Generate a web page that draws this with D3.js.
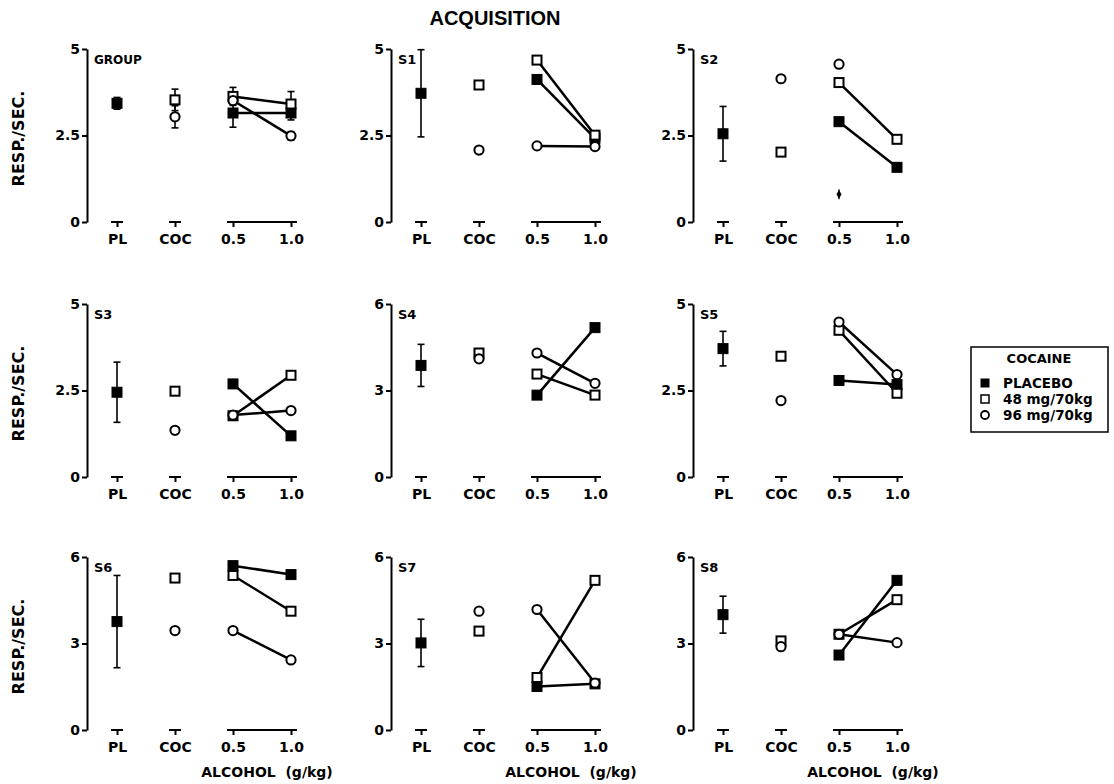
<!DOCTYPE html>
<html>
<head>
<meta charset="utf-8">
<script src="https://cdn.jsdelivr.net/npm/d3@7"></script>
<style>
  body { margin: 0; background: #fff; }
  text { font-family: "DejaVu Sans", sans-serif; font-weight: bold; fill: #000; }
</style>
</head>
<body>
<div id="canvas"></div>
<script>
"use strict";

// ---- data ----
const panelNames = ["GROUP", "S1", "S2", "S3", "S4", "S5", "S6", "S7", "S8"];
const yMax = [5, 5, 5, 5, 6, 5, 6, 6, 6];
const xCategories = ["PL", "COC", "0.5", "1.0"];

// placebo alone (PL column) with error bar half-width
const plMean = [3.43, 3.72, 2.55, 2.45, 3.87, 3.71, 3.76, 3.02, 4.00];
const plErr = [0.17, 1.26, 0.79, 0.87, 0.73, 0.50, 1.60, 0.82, 0.64];

// cocaine alone (COC column)
const coc48 = [3.53, 3.96, 2.02, 2.48, 4.30, 3.49, 5.27, 3.43, 3.09];
const coc96 = [3.04, 2.08, 4.14, 1.35, 4.10, 2.21, 3.45, 4.12, 2.89];

// alcohol 0.5 and 1.0 g/kg, per cocaine condition
const alcPlacebo = [[3.15, 3.15], [4.12, 2.42], [2.90, 1.58], [2.69, 1.19], [2.84, 5.18],
                    [2.79, 2.67], [5.70, 5.39], [1.51, 1.60], [2.60, 5.19]];
const alc48 = [[3.63, 3.41], [4.68, 2.51], [4.03, 2.39], [1.77, 2.94], [3.57, 2.84],
               [4.24, 2.42], [5.36, 4.12], [1.82, 5.19], [3.32, 4.52]];
const alc96 = [[3.51, 2.49], [2.20, 2.18], [4.56, null], [1.79, 1.92], [4.30, 3.25],
               [4.48, 2.96], [3.45, 2.43], [4.18, 1.63], [3.32, 3.03]];

// error bars for the group panel only
const groupCocErr = [0.31, 0.32];          // 48, 96
const groupAlcPlaceboErr = [0.41, 0.20];
const groupAlc48Err = [0.26, 0.36];
const groupAlc96Err = [0.10, 0.12];

// stray mark in S2
const strayMarks = [{ panel: 2, cat: "0.5", value: 0.8 }];

const legendItems = ["PLACEBO", "48 mg/70kg", "96 mg/70kg"];

// ---- layout ----
let svgWidth = 1114;
let svgHeight = 784;
let colX = [87, 391, 693];     // y-axis position of each column
let rowTop = [49, 304, 557];
let plotH = 173;

let svg = d3.select("#canvas")
    .append("svg")
    .attr("width", svgWidth)
    .attr("height", svgHeight);

svg.append("text")
    .attr("x", 495)
    .attr("y", 25)
    .attr("text-anchor", "middle")
    .style("font-family", "'Liberation Sans', Arial, sans-serif")
    .style("font-size", "20px")
    .text("ACQUISITION");

function drawSquare(g, cx, cy, filled) {
    let s = filled ? 10 : 9;
    g.append("rect")
        .attr("x", cx - s / 2)
        .attr("y", cy - s / 2)
        .attr("width", s)
        .attr("height", s)
        .attr("fill", filled ? "#000" : "#fff")
        .attr("stroke", "#000")
        .attr("stroke-width", filled ? 1 : 2);
}

function drawCircle(g, cx, cy) {
    g.append("circle")
        .attr("cx", cx)
        .attr("cy", cy)
        .attr("r", 4.6)
        .attr("fill", "#fff")
        .attr("stroke", "#000")
        .attr("stroke-width", 2);
}

function errBar(g, cx, cy0, cy1) {
    g.append("line")
        .attr("x1", cx).attr("x2", cx)
        .attr("y1", cy0).attr("y2", cy1)
        .attr("stroke", "#000").attr("stroke-width", 1.6);
    [cy0, cy1].forEach(cy => {
        g.append("line")
            .attr("x1", cx - 3.5).attr("x2", cx + 3.5)
            .attr("y1", cy).attr("y2", cy)
            .attr("stroke", "#000").attr("stroke-width", 1.6);
    });
}

panelNames.forEach((name, i) => {
    let col = i % 3;
    let row = Math.floor(i / 3);
    let ax = colX[col];
    let top = rowTop[row];

    let g = svg.append("g");

    let x = d3.scalePoint()
        .domain(xCategories)
        .range([ax + 30, ax + 204]);

    let y = d3.scaleLinear()
        .domain([0, yMax[i]])
        .range([top + plotH, top]);

    // y axis
    let yTicks = [0, yMax[i] / 2, yMax[i]];
    let yAxis = g.append("g")
        .attr("transform", `translate(${ax},0)`)
        .call(d3.axisLeft(y)
            .tickValues(yTicks)
            .tickFormat(d => d === 0 ? "0" : String(d))
            .tickSize(5)
            .tickSizeOuter(0)
            .tickPadding(2));
    yAxis.select(".domain").attr("stroke-width", 2);
    yAxis.selectAll(".tick line").attr("stroke-width", 2);
    yAxis.selectAll("text")
        .style("font-family", "'DejaVu Sans', sans-serif")
        .style("font-size", "14px")
        .style("font-weight", "bold");

    // x axis: stems plus short bars
    let xAxis = g.append("g")
        .attr("transform", `translate(0,${top + plotH})`)
        .call(d3.axisBottom(x).tickSize(5).tickSizeOuter(0).tickPadding(7));
    xAxis.select(".domain").remove();
    xAxis.selectAll(".tick line").attr("stroke-width", 2);
    xAxis.selectAll("text")
        .style("font-family", "'DejaVu Sans', sans-serif")
        .style("font-size", "14px")
        .style("font-weight", "bold");
    [["PL", "PL"], ["COC", "COC"], ["0.5", "1.0"]].forEach(([a, b]) => {
        xAxis.append("line")
            .attr("x1", x(a) - 6).attr("x2", x(b) + 6)
            .attr("y1", 0).attr("y2", 0)
            .attr("stroke", "#000").attr("stroke-width", 2);
    });

    // panel label
    g.append("text")
        .attr("x", ax + 7)
        .attr("y", top + 15)
        .style("font-size", name === "GROUP" ? "12px" : "13px")
        .text(name);

    // error bars
    errBar(g, x("PL"), y(plMean[i] - plErr[i]), y(plMean[i] + plErr[i]));
    if (i === 0) {
        errBar(g, x("COC"), y(coc48[0] - groupCocErr[0]), y(coc48[0] + groupCocErr[0]));
        errBar(g, x("COC"), y(coc96[0] - groupCocErr[1]), y(coc96[0] + groupCocErr[1]));
        [[alcPlacebo, groupAlcPlaceboErr], [alc48, groupAlc48Err], [alc96, groupAlc96Err]]
            .forEach(([vals, errs]) => {
                ["0.5", "1.0"].forEach((c, k) => {
                    errBar(g, x(c), y(vals[0][k] - errs[k]), y(vals[0][k] + errs[k]));
                });
            });
    }

    // connecting lines between 0.5 and 1.0
    let lineGen = d3.line()
        .defined(d => d.v !== null)
        .x(d => x(d.c))
        .y(d => y(d.v));
    [alcPlacebo, alc48, alc96].forEach(series => {
        let pts = ["0.5", "1.0"].map((c, k) => ({ c: c, v: series[i][k] }));
        if (pts.every(p => p.v !== null)) {
            g.append("path")
                .attr("d", lineGen(pts))
                .attr("fill", "none")
                .attr("stroke", "#000")
                .attr("stroke-width", 2.5);
        }
    });

    // markers
    drawSquare(g, x("PL"), y(plMean[i]), true);
    drawSquare(g, x("COC"), y(coc48[i]), false);
    drawCircle(g, x("COC"), y(coc96[i]));
    ["0.5", "1.0"].forEach((c, k) => {
        if (alcPlacebo[i][k] !== null) drawSquare(g, x(c), y(alcPlacebo[i][k]), true);
        if (alc48[i][k] !== null) drawSquare(g, x(c), y(alc48[i][k]), false);
        if (alc96[i][k] !== null) drawCircle(g, x(c), y(alc96[i][k]));
    });

    strayMarks.filter(m => m.panel === i).forEach(m => {
        g.append("path")
            .attr("transform", `translate(${x(m.cat)},${y(m.value)})`)
            .attr("d", d3.symbol(d3.symbolDiamond, 22)())
            .attr("fill", "#000");
        g.append("line")
            .attr("x1", x(m.cat)).attr("x2", x(m.cat))
            .attr("y1", y(m.value) - 5).attr("y2", y(m.value) + 5)
            .attr("stroke", "#000").attr("stroke-width", 1.2);
    });

    // y label on left column
    if (col === 0) {
        g.append("text")
            .attr("transform", `translate(24,${top + plotH / 2 + 3}) rotate(-90)`)
            .attr("text-anchor", "middle")
            .style("font-size", "16px")
            .text("RESP./SEC.");
    }

    // x label on bottom row
    if (row === 2) {
        g.append("text")
            .attr("x", (x("0.5") + x("1.0")) / 2 + 5)
            .attr("y", 777)
            .attr("text-anchor", "middle")
            .attr("xml:space", "preserve")
            .style("font-size", "14px")
            .style("white-space", "pre")
            .text("ALCOHOL  (g/kg)");
    }
});

// legend
let legX = 971;
let legY = 347;
svg.append("rect")
    .attr("x", legX)
    .attr("y", legY)
    .attr("width", 137)
    .attr("height", 85)
    .attr("fill", "none")
    .attr("stroke", "#000")
    .attr("stroke-width", 1.5);

svg.append("text")
    .attr("x", legX + 68)
    .attr("y", legY + 16)
    .attr("text-anchor", "middle")
    .style("font-size", "13px")
    .text("COCAINE");

legendItems.forEach((label, k) => {
    let cy = legY + 36 + k * 16;
    let sx = legX + 14;
    if (k === 0) {
        svg.append("rect").attr("x", sx - 4.5).attr("y", cy - 4.5)
            .attr("width", 9).attr("height", 9).attr("fill", "#000");
    } else if (k === 1) {
        svg.append("rect").attr("x", sx - 4).attr("y", cy - 4)
            .attr("width", 8).attr("height", 8)
            .attr("fill", "#fff").attr("stroke", "#000").attr("stroke-width", 1.5);
    } else {
        svg.append("circle").attr("cx", sx).attr("cy", cy).attr("r", 4)
            .attr("fill", "#fff").attr("stroke", "#000").attr("stroke-width", 1.8);
    }
    svg.append("text")
        .attr("x", legX + 32)
        .attr("y", cy + 5)
        .style("font-size", "13.5px")
        .text(label);
});
</script>
</body>
</html>
